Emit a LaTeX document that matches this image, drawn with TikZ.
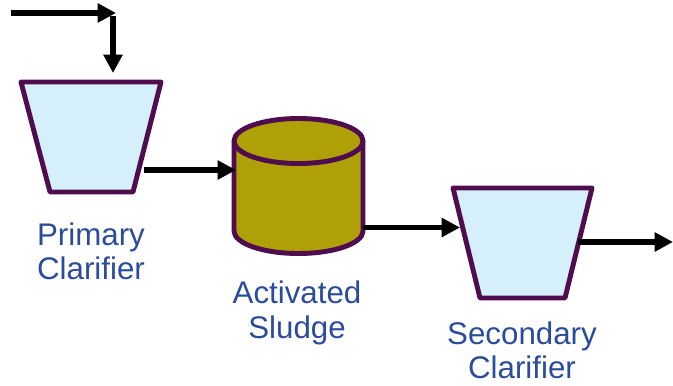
\documentclass[tikz,border=0pt]{standalone}
\usepackage{fontspec}
\setmainfont{Liberation Sans}
\usetikzlibrary{arrows.meta}
\definecolor{tankline}{HTML}{4F0D4F}
\definecolor{tankblue}{HTML}{D5EFFB}
\definecolor{sludgefill}{HTML}{B0A008}
\definecolor{labelblue}{HTML}{2B4C9B}
\begin{document}
\begin{tikzpicture}[
    tank/.style={draw=tankline, line width=2.8pt, line join=round},
    flow/.style={line width=3.3pt, -{Triangle[length=10.5pt,width=10.5pt]}},
    caption/.style={align=center, text=labelblue, font=\fontsize{17.8}{19.5}\selectfont}
  ]
  \useasboundingbox (0, 0) rectangle (13.46, 7.7);
  % primary clarifier
  \draw[tank, fill=tankblue] (0.42, 6.06) -- (3.22, 6.06) -- (2.66, 3.86) -- (1.00, 3.86) -- cycle;
  % activated sludge tank
  \draw[tank, fill=sludgefill] (4.68, 4.88) -- (4.68, 3.08)
    arc[start angle=180, end angle=360, x radius=1.29, y radius=0.45] -- (7.26, 4.88)
    arc[start angle=0, end angle=180, x radius=1.29, y radius=0.45] -- cycle;
  \draw[tank] (4.68, 4.88) arc[start angle=180, end angle=360, x radius=1.29, y radius=0.45];
  % secondary clarifier
  \draw[tank, fill=tankblue] (9.06, 3.94) -- (11.84, 3.94) -- (11.30, 1.74) -- (9.60, 1.74) -- cycle;
  % names under the tanks
  \node[caption] (primarytxt) at (1.82, 2.68) {Primary\\Clarifier};
  \node[caption] (sludgetxt) at (5.94, 1.44) {Activated\\Sludge};
  \node[caption] (secondarytxt) at (10.44, 0.70) {Secondary\\Clarifier};
  % flow lines
  \coordinate (feed) at (0.22, 7.44);
  \coordinate (bend) at (2.32, 7.44);
  \coordinate (drop) at (2.26, 7.38);
  \coordinate (primaryin) at (2.26, 6.24);
  \coordinate (primaryout) at (2.88, 4.30);
  \coordinate (sludgein) at (4.72, 4.30);
  \coordinate (sludgeout) at (7.26, 3.15);
  \coordinate (secondaryin) at (9.20, 3.15);
  \coordinate (secondaryout) at (11.56, 2.86);
  \coordinate (outlet) at (13.46, 2.86);
  \draw[flow] (feed) -- (bend);
  \draw[flow] (drop) -- (primaryin);
  \draw[flow] (primaryout) -- (sludgein);
  \draw[flow] (sludgeout) -- (secondaryin);
  \draw[flow] (secondaryout) -- (outlet);
\end{tikzpicture}
\end{document}
